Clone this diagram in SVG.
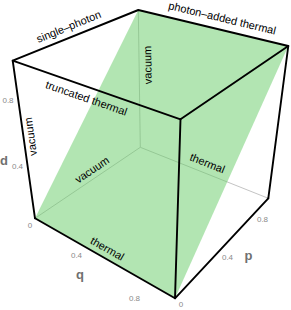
<svg xmlns="http://www.w3.org/2000/svg" width="291" height="310" viewBox="0 0 291 310">
<style>
.edge{stroke:#000;stroke-width:1.9;fill:none;stroke-linecap:round;stroke-linejoin:round}
.hid{stroke:#c4c4c4;stroke-width:1;fill:none}
.lbl{font-family:"Liberation Sans",Arial,sans-serif;font-size:11px;fill:#000;text-anchor:middle}
.tick{font-family:"Liberation Sans",Arial,sans-serif;font-size:8px;fill:#8a8a8a;text-anchor:middle}
.axis{font-family:"Liberation Sans",Arial,sans-serif;font-size:13px;font-weight:bold;fill:#707070;text-anchor:middle}
</style>
<rect width="291" height="310" fill="#fff"/>
<g id="hidden-edges">
<line class="hid" x1="140.3" y1="147.3" x2="138.3" y2="10"/>
<line class="hid" x1="140.3" y1="147.3" x2="35" y2="218.3"/>
<line class="hid" x1="140.3" y1="147.3" x2="268.3" y2="198.3"/>
</g>
<g id="plane">
<polygon points="138.3,10 288.3,46 175,298.3 35,218.3" fill="#66cc66" fill-opacity="0.5"/>
</g>
<g id="edges">
<polyline class="edge" points="12.7,60.7 138.3,10 288.3,46 180.5,119.3 12.7,60.7"/>
<line class="edge" x1="12.7" y1="60.7" x2="35" y2="218.3"/>
<line class="edge" x1="180.5" y1="119.3" x2="175" y2="298.3"/>
<line class="edge" x1="288.3" y1="46" x2="268.3" y2="198.3"/>
<polyline class="edge" points="35,218.3 175,298.3 268.3,198.3"/>
</g>
<g id="edge-labels">
<text class="lbl" transform="translate(69,27.5) rotate(-22)" y="2.8">single–photon</text>
<text class="lbl" transform="translate(222,19) rotate(13.5)" y="2.8">photon–added thermal</text>
<text class="lbl" transform="translate(86.5,98) rotate(19.2)" y="4">truncated thermal</text>
<text class="lbl" transform="translate(31.5,136.5) rotate(-98)" y="2.9">vacuum</text>
<text class="lbl" transform="translate(148.5,65) rotate(-90.7)" y="2.9">vacuum</text>
<text class="lbl" transform="translate(92.5,170.5) rotate(-33.9)" y="2.9">vacuum</text>
<text class="lbl" transform="translate(107.5,248.5) rotate(29.7)" y="4">thermal</text>
<text class="lbl" transform="translate(207.5,163) rotate(21.7)" y="4">thermal</text>
</g>
<g id="ticks">
<text class="tick" x="8" y="103">0.8</text>
<text class="tick" x="17.5" y="169">0.4</text>
<text class="tick" x="30" y="228">0</text>
<text class="tick" x="76.5" y="257.5">0.4</text>
<text class="tick" x="134.5" y="301">0.8</text>
<text class="tick" x="181" y="306.5">0</text>
<text class="tick" x="227.5" y="260">0.4</text>
<text class="tick" x="262.5" y="222">0.8</text>
</g>
<g id="axis-labels">
<text class="axis" x="4" y="164.5">d</text>
<text class="axis" x="80" y="279">q</text>
<text class="axis" x="248.5" y="259.5">p</text>
</g>
</svg>
